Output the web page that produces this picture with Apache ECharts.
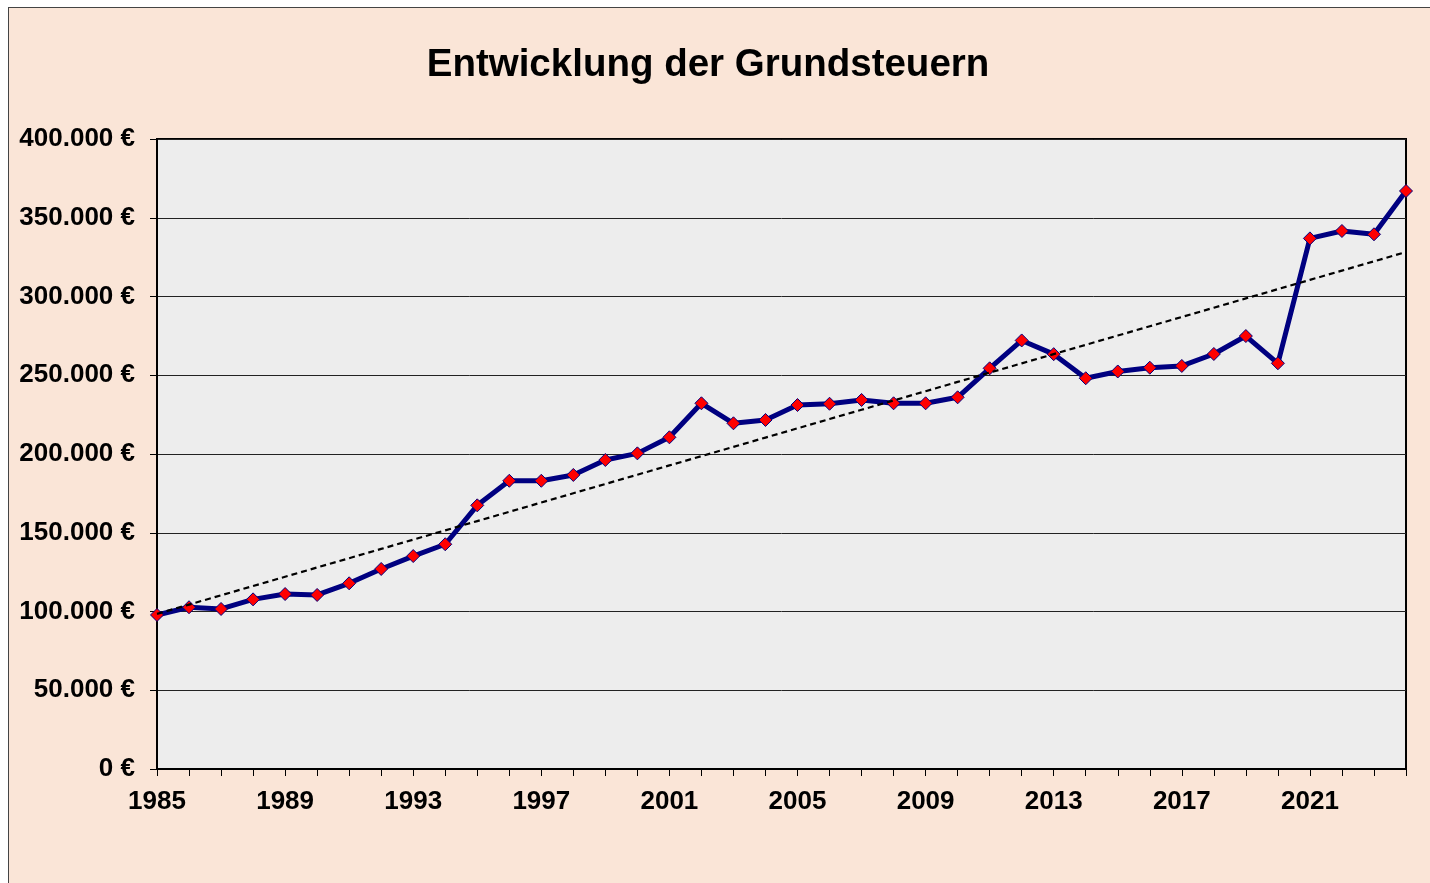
<!DOCTYPE html>
<html>
<head>
<meta charset="utf-8">
<script src="https://cdn.jsdelivr.net/npm/echarts@6/dist/echarts.min.js"></script>
<style>
  html, body { margin: 0; padding: 0; background: #ffffff; }
  #bg { position: absolute; left: 8px; top: 7px; width: 1422px; height: 876px; background: #FAE5D7; border-left: 1px solid #444; border-top: 1px solid #444; box-sizing: border-box; }
  #chart { position: absolute; left: 0; top: 0; width: 1430px; height: 883px; }
</style>
</head>
<body>
<div id="bg"></div>
<div id="chart"></div>
<script>
// Data
var years = ['1985','1986','1987','1988','1989','1990','1991','1992','1993','1994',
             '1995','1996','1997','1998','1999','2000','2001','2002','2003','2004',
             '2005','2006','2007','2008','2009','2010','2011','2012','2013','2014',
             '2015','2016','2017','2018','2019','2020','2021','2022','2023','2024'];
var grundsteuer = [97800, 102700, 101600, 107700, 111100, 110500, 117900, 127000, 135200, 142700,
                   167400, 183000, 183000, 186700, 196200, 200400, 210600, 232200, 219500, 221600,
                   231100, 231900, 234300, 232200, 232200, 236000, 254400, 272100, 263400, 248100,
                   252400, 254800, 255900, 263500, 274900, 257600, 336900, 341600, 339500, 367000];
var yTickValues = [0, 50000, 100000, 150000, 200000, 250000, 300000, 350000, 400000];
var titleText = 'Entwicklung der Grundsteuern';

// Linear trend (least squares over year index), as Excel's trendline
var n = grundsteuer.length, sx = 0, sy = 0, sxy = 0, sxx = 0;
for (var i = 0; i < n; i++) { sx += i; sy += grundsteuer[i]; sxy += i * grundsteuer[i]; sxx += i * i; }
var slope = (n * sxy - sx * sy) / (n * sxx - sx * sx);
var intercept = (sy - slope * sx) / n;
var trend = grundsteuer.map(function (_, i) { return intercept + slope * i; });

function fmtEuro(v) {
  return String(Math.round(v)).replace(/\B(?=(\d{3})+(?!\d))/g, '.') + ' €';
}

var FONT = "'Liberation Sans', Arial, sans-serif";
var chart = echarts.init(document.getElementById('chart'), null, { renderer: 'canvas' });
chart.setOption({
  backgroundColor: 'transparent',
  animation: false,
  title: {
    text: titleText,
    left: 703, textAlign: 'center',
    top: 41,
    textStyle: { fontFamily: FONT, fontSize: 38.5, fontWeight: 'bold', color: '#000' }
  },
  grid: {
    left: 157, top: 139, right: 24, bottom: 114,
    show: true, backgroundColor: '#EDEDED', borderColor: '#000', borderWidth: 2
  },
  xAxis: {
    type: 'category',
    data: years,
    boundaryGap: false,
    axisLine: { lineStyle: { color: '#000', width: 2 } },
    axisTick: { show: true, interval: 0, length: 7, lineStyle: { color: '#000', width: 1 } },
    axisLabel: { interval: 3, margin: 20, fontFamily: FONT, fontSize: 26, fontWeight: 'bold', color: '#000' },
    splitLine: { show: false }
  },
  yAxis: {
    type: 'value',
    min: yTickValues[0], max: yTickValues[yTickValues.length - 1], interval: 50000,
    axisLine: { show: true, lineStyle: { color: '#000', width: 2 } },
    axisTick: { show: true, length: 7, lineStyle: { color: '#000', width: 1 } },
    axisLabel: { margin: 22, fontFamily: FONT, fontSize: 26, fontWeight: 'bold', color: '#000',
                 formatter: function (v) { return fmtEuro(v); } },
    splitLine: { show: true, lineStyle: { color: '#222', width: 1 } }
  },
  series: [
    {
      name: 'Grundsteuern',
      type: 'line',
      data: grundsteuer,
      lineStyle: { color: '#000080', width: 5 },
      symbol: 'diamond', symbolSize: 13,
      itemStyle: { color: '#FF0000', borderColor: '#000080', borderWidth: 1 },
      z: 3
    },
    {
      name: 'Trend',
      type: 'line',
      data: trend,
      showSymbol: false, symbol: 'none',
      lineStyle: { color: '#000', width: 2.2, type: [6, 4] },
      z: 4
    }
  ]
});
</script>
</body>
</html>
